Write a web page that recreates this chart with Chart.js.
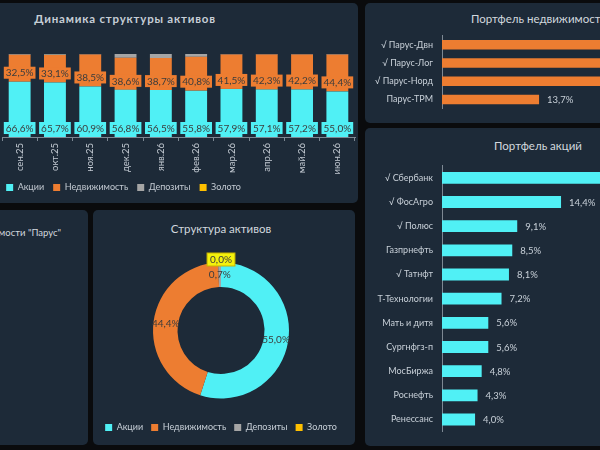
<!DOCTYPE html>
<html>
<head>
<meta charset="utf-8">
<script src="https://cdn.jsdelivr.net/npm/chart.js@4.4.1/dist/chart.umd.min.js"></script>
<style>
  html, body { margin: 0; padding: 0; width: 600px; height: 450px; overflow: hidden; background: #0a0b0d; position: relative; font-family: Lato, "Open Sans", sans-serif; }
  .panel { position: absolute; background: #1d2a38; border-radius: 5px; }
  .ttl { position: absolute; color: #d2d8de; font-size: 11.5px; white-space: nowrap; text-align: center; }
  canvas { position: absolute; }
</style>
</head>
<body>
<div class="panel" style="left:-20px;top:3px;width:378px;height:200px"></div>
<div class="panel" style="left:365px;top:3px;width:260px;height:120px"></div>
<div class="panel" style="left:365px;top:128px;width:260px;height:318px"></div>
<div class="panel" style="left:-20px;top:210px;width:108px;height:235px"></div>
<div class="panel" style="left:93px;top:210px;width:262px;height:235px"></div>

<div class="ttl" style="left:0;width:250px;top:12px;font-size:11.5px;font-weight:bold;letter-spacing:0.8px;color:#c6ced6">Динамика структуры активов</div>
<div class="ttl" style="left:439px;width:200px;top:12px">Портфель недвижимости</div>
<div class="ttl" style="left:438px;width:200px;top:139px">Портфель акций</div>
<div class="ttl" style="left:-200px;width:261px;top:227px;text-align:right;font-size:9.5px">Структура недвижимости "Парус"</div>
<div class="ttl" style="left:121px;width:200px;top:222px">Структура активов</div>

<canvas id="dyn" width="466" height="200" style="left:-108px;top:3px"></canvas>
<canvas id="realty" width="335" height="120" style="left:365px;top:3px"></canvas>
<canvas id="stocks" width="335" height="318" style="left:365px;top:128px"></canvas>
<canvas id="donut" width="302" height="235" style="left:76px;top:210px"></canvas>

<script>
// --- data ---
const months     = ['сен.25','окт.25','ноя.25','дек.25','янв.26','фев.26','мар.26','апр.26','май.26','июн.26'];
const shares     = [66.6, 65.7, 60.9, 56.8, 56.5, 55.8, 57.9, 57.1, 57.2, 55.0];
const realEstate = [32.5, 33.1, 38.5, 38.6, 38.7, 40.8, 41.5, 42.3, 42.2, 44.4];
const deposits   = [0.9, 0.9, 0.6, 4.6, 4.8, 3.4, 0.6, 0.6, 0.6, 0.7];
const gold       = [0, 0.3, 0, 0, 0, 0, 0, 0, 0, 0];

const assetNames  = ['Акции', 'Недвижимость', 'Депозиты', 'Золото'];
const assetColors = ['#50f0f5', '#ed7d31', '#a5a5a5', '#ffc000'];
const structNow   = [55.0, 44.4, 0.7, 0.0];

const realtyNames  = ['√ Парус-Двн', '√ Парус-Лог', '√ Парус-Норд', 'Парус-ТРМ'];
const realtyValues = [30.5, 28.9, 26.9, 13.7];

const stockNames  = ['√ Сбербанк', '√ ФосАгро', '√ Полюс', 'Газпрнефть', '√ Татнфт', 'Т-Технологии',
                     'Мать и дитя', 'Сургнфгз-п', 'МосБиржа', 'Роснефть', 'Ренессанс'];
const stockValues = [28.4, 14.4, 9.1, 8.5, 8.1, 7.2, 5.6, 5.6, 4.8, 4.3, 4.0];

Chart.defaults.font.family = 'Lato, "Open Sans", sans-serif';
Chart.defaults.color = '#c3cad2';
Chart.defaults.animation = false;
const axisColor = '#7d8893';
const fmt = v => v.toFixed(1).replace('.', ',') + '%';

// 100% stacked: normalise each month
const raw = [shares, realEstate, deposits, gold];
const totals = months.map((_, i) => raw.reduce((s, a) => s + a[i], 0));
const pct = arr => arr.map((v, i) => v / totals[i] * 100);

// labels in boxes at the base of the first two series
const stackLabels = {
  id: 'stackLabels',
  afterDatasetsDraw(chart) {
    const ctx = chart.ctx;
    ctx.save();
    ctx.font = '10px Lato, "Open Sans"';
    ctx.textAlign = 'center';
    ctx.textBaseline = 'middle';
    [0, 1].forEach(di => {
      chart.getDatasetMeta(di).data.forEach((bar, i) => {
        const t = fmt(raw[di][i]);
        const w = Math.max(ctx.measureText(t).width + 4, bar.width + 4), h = 12;
        const cy = bar.base - 3 - h / 2;
        ctx.fillStyle = assetColors[di];
        ctx.fillRect(bar.x - w / 2, cy - h / 2, w, h);
        ctx.fillStyle = '#3c3c3c';
        ctx.fillText(t, bar.x, cy + 0.5);
      });
    });
    ctx.restore();
  }
};

new Chart(document.getElementById('dyn'), {
  type: 'bar',
  data: {
    labels: months,
    datasets: raw.map((arr, k) => ({
      label: assetNames[k], data: pct(arr), backgroundColor: assetColors[k],
      categoryPercentage: 0.62, barPercentage: 1
    }))
  },
  options: {
    responsive: false,
    layout: { padding: { top: 51, right: 3, bottom: 1, left: 0 } },
    plugins: {
      legend: { position: 'bottom', labels: { boxWidth: 7, boxHeight: 7, padding: 9, font: { size: 9 }, color: '#c3cad2' } },
      tooltip: { enabled: false }
    },
    scales: {
      x: {
        stacked: true,
        grid: { display: true, drawOnChartArea: false, tickLength: 4, color: axisColor },
        border: { color: axisColor },
        ticks: { minRotation: 90, maxRotation: 90, autoSkip: false, font: { size: 9.5 }, color: '#c3cad2', padding: 2 },
        afterFit: s => { s.height = 37; }
      },
      y: {
        stacked: true, min: 0, max: 100,
        grid: { display: false }, border: { display: false }, ticks: { display: false },
        afterFit: s => { s.width = 110; }
      }
    }
  },
  plugins: [stackLabels]
});

// value labels at bar ends
const endLabels = {
  id: 'endLabels',
  afterDatasetsDraw(chart) {
    const ctx = chart.ctx;
    const vals = chart.data.datasets[0].data;
    ctx.save();
    ctx.font = '9.5px Lato, "Open Sans"';
    ctx.fillStyle = '#c8d0d8';
    ctx.textAlign = 'left';
    ctx.textBaseline = 'middle';
    chart.getDatasetMeta(0).data.forEach((bar, i) => ctx.fillText(fmt(vals[i]), bar.x + 8, bar.y + 0.5));
    ctx.restore();
  }
};

function hbar(id, names, values, color, max, pad, barPct) {
  new Chart(document.getElementById(id), {
    type: 'bar',
    data: { labels: names, datasets: [{ data: values, backgroundColor: color, categoryPercentage: 1, barPercentage: barPct }] },
    options: {
      indexAxis: 'y',
      responsive: false,
      layout: { padding: pad },
      plugins: { legend: { display: false }, tooltip: { enabled: false } },
      scales: {
        x: { display: false, min: 0, max: max },
        y: {
          grid: { display: false, drawTicks: false },
          border: { color: axisColor },
          ticks: { font: { size: 9 }, color: '#c8d0d8', padding: 9 },
          afterFit: s => { s.width = 77; }
        }
      }
    },
    plugins: [endLabels]
  });
}
hbar('realty', realtyNames, realtyValues, '#ed7d31', 35, { top: 32.5, right: 10, bottom: 8.5, left: 0 }, 0.52);
hbar('stocks', stockNames, stockValues, '#50f0f5', 30, { top: 37.75, right: 10, bottom: 10.75, left: 0 }, 0.49);

// doughnut labels
const arcLabels = {
  id: 'arcLabels',
  afterDatasetsDraw(chart) {
    const ctx = chart.ctx;
    const vals = chart.data.datasets[0].data;
    ctx.save();
    ctx.font = '10px Lato, "Open Sans"';
    ctx.textAlign = 'center';
    ctx.textBaseline = 'middle';
    chart.getDatasetMeta(0).data.forEach((arc, i) => {
      const a = (arc.startAngle + arc.endAngle) / 2;
      const r = vals[i] === 0 ? arc.outerRadius + 3 : (arc.innerRadius + arc.outerRadius) / 2;
      const x = arc.x + Math.cos(a) * r, y = arc.y + Math.sin(a) * r;
      const t = fmt(vals[i]);
      if (vals[i] === 0) {
        const w = ctx.measureText(t).width + 6, h = 13;
        ctx.fillStyle = '#f4f20c';
        ctx.strokeStyle = '#c9b400';
        ctx.fillRect(x - w / 2, y - h / 2, w, h);
        ctx.strokeRect(x - w / 2, y - h / 2, w, h);
      }
      ctx.fillStyle = '#3c3c3c';
      ctx.fillText(t, x, y + 0.5);
    });
    ctx.restore();
  }
};

new Chart(document.getElementById('donut'), {
  type: 'doughnut',
  data: {
    labels: assetNames,
    datasets: [{ data: structNow, backgroundColor: assetColors, borderWidth: 0, radius: 68, cutout: '64%' }]
  },
  options: {
    responsive: false,
    layout: { padding: { top: 36, right: 12, bottom: 3, left: 0 } },
    plugins: {
      legend: { position: 'bottom', labels: { boxWidth: 7, boxHeight: 7, padding: 8, font: { size: 9 }, color: '#c8d0d8' } },
      tooltip: { enabled: false }
    }
  },
  plugins: [arcLabels]
});
</script>
</body>
</html>
